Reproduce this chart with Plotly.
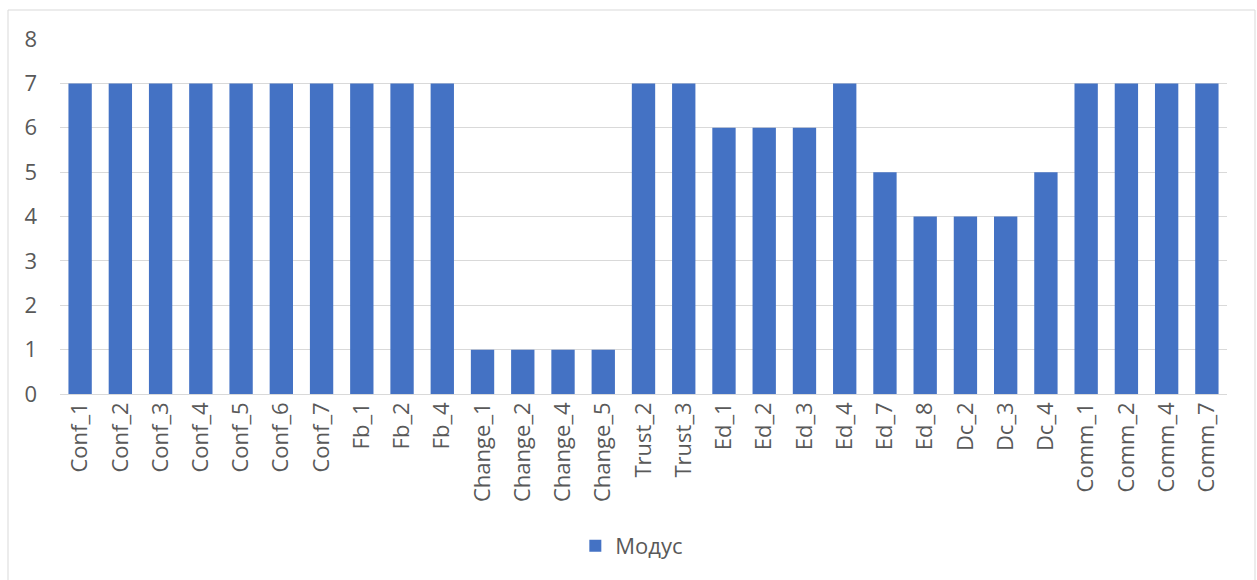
import plotly.graph_objects as go

categories = ["Conf_1", "Conf_2", "Conf_3", "Conf_4", "Conf_5", "Conf_6", "Conf_7",
              "Fb_1", "Fb_2", "Fb_4",
              "Change_1", "Change_2", "Change_4", "Change_5",
              "Trust_2", "Trust_3",
              "Ed_1", "Ed_2", "Ed_3", "Ed_4", "Ed_7", "Ed_8",
              "Dc_2", "Dc_3", "Dc_4",
              "Comm_1", "Comm_2", "Comm_4", "Comm_7"]
mode_values = [7, 7, 7, 7, 7, 7, 7,
               7, 7, 7,
               1, 1, 1, 1,
               7, 7,
               6, 6, 6, 7, 5, 4,
               4, 4, 5,
               7, 7, 7, 7]
y_ticks = [0, 1, 2, 3, 4, 5, 6, 7, 8]

W, H = 1257, 580
L, R, T, B = 60, 1227, 39, 394
pw, ph = R - L, B - T

fig = go.Figure()
fig.add_trace(go.Bar(
    x=categories, y=mode_values, name="Модус",
    marker=dict(color="#4472C4", line=dict(width=0)),
    showlegend=True,
))

font = "Open Sans, Liberation Sans, sans-serif"
fs = 22
fig.update_layout(
    width=W, height=H,
    margin=dict(l=L, r=W - R, t=T, b=H - B),
    paper_bgcolor="white", plot_bgcolor="white",
    bargap=0.42,
    font=dict(family=font, color="#595959", size=fs),
    xaxis=dict(tickangle=-90, showgrid=False, showline=False, zeroline=False,
               ticks="", tickfont=dict(size=fs, color="#595959"),
               ticklabelstandoff=3),
    yaxis=dict(range=[0, 8], tickvals=y_ticks, showgrid=True,
               gridcolor="#D9D9D9", gridwidth=1, zeroline=True,
               zerolinecolor="#D9D9D9", zerolinewidth=1, showline=False,
               ticks="", tickfont=dict(size=fs, color="#595959"),
               ticklabelstandoff=22),
    legend=dict(orientation="h", x=0.49, xanchor="center", y=-(546 - B) / ph,
                yanchor="middle", font=dict(size=fs, color="#595959"),
                itemwidth=30),
    shapes=[dict(type="rect", xref="paper", yref="paper",
                 x0=(8 - L) / pw, x1=(1255 - L) / pw,
                 y0=-(620 - B) / ph, y1=(B - 10) / ph,
                 line=dict(color="#D9D9D9", width=1), layer="below")],
)

fig.write_html("out.html")
